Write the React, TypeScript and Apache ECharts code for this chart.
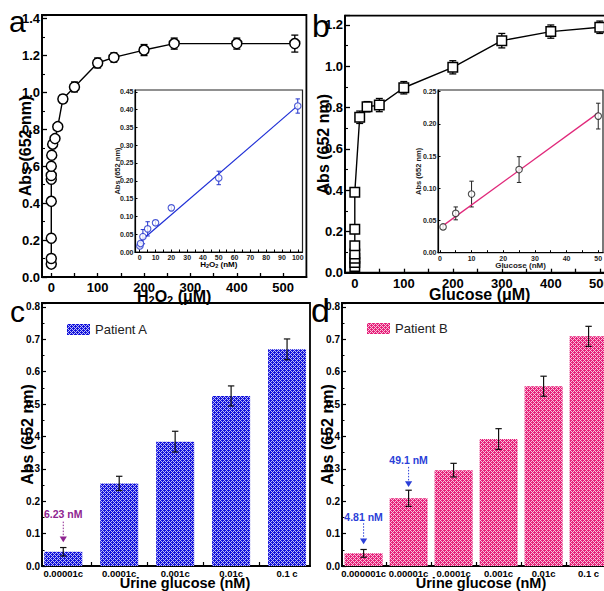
import React, { useEffect, useRef } from 'react';
import * as echarts from 'echarts';

const FONT = '"Liberation Sans", Arial, Helvetica, sans-serif';

// ---- Panel a: H2O2 (μM) ----
const aX = [0, 0, 0, 0, 0, 0, 0, 1, 3, 8, 14, 25, 50, 100, 135, 200, 265, 400, 525];
const aY = [0.07, 0.1, 0.21, 0.41, 0.53, 0.55, 0.6, 0.66, 0.72, 0.75, 0.815, 0.965, 1.03, 1.16, 1.19, 1.23, 1.265, 1.265, 1.265];
const aErr = [0.012, 0.012, 0.012, 0.012, 0.015, 0.012, 0.012, 0.012, 0.015, 0.015, 0.018, 0.022, 0.027, 0.027, 0.025, 0.03, 0.03, 0.03, 0.046];
const aXTicks = [0, 50, 100, 150, 200, 250, 300, 350, 400, 450, 500];
const aXLabels = [0, 100, 200, 300, 400, 500];

// ---- Inset a: H2O2 (nM) ----
const aiX = [0.1, 0.5, 2, 5, 10, 20, 50, 100];
const aiY = [0.017, 0.024, 0.043, 0.065, 0.082, 0.124, 0.208, 0.41];
const aiErr = [0.004, 0.005, 0.02, 0.02, 0.007, 0.007, 0.019, 0.02];
const aiFitX = [0.5, 100];
const aiFitY = [0.03, 0.411];
const aiXTicks = [0, 5, 10, 15, 20, 25, 30, 35, 40, 45, 50, 55, 60, 65, 70, 75, 80, 85, 90, 95, 100];
const aiXLabels = [0, 10, 20, 30, 40, 50, 60, 70, 80, 90, 100];

// ---- Panel b: Glucose (μM) ----
const bX = [0, 0, 0, 0, 0, 0, 0, 10, 25, 50, 100, 200, 300, 400, 500];
const bY = [0.03, 0.05, 0.07, 0.09, 0.13, 0.21, 0.39, 0.753, 0.804, 0.812, 0.896, 0.995, 1.124, 1.168, 1.189];
const bErr = [0.015, 0.015, 0.015, 0.015, 0.02, 0.02, 0.02, 0.03, 0.025, 0.032, 0.03, 0.032, 0.035, 0.032, 0.03];
const bXTicks = [0, 50, 100, 150, 200, 250, 300, 350, 400, 450, 500];
const bXLabels = [0, 100, 200, 300, 400, 500];

// ---- Inset b: Glucose (nM) ----
const biX = [1, 5, 10, 25, 50];
const biY = [0.04, 0.061, 0.091, 0.129, 0.212];
const biErr = [0.004, 0.01, 0.02, 0.02, 0.02];
const biFitX = [1, 50];
const biFitY = [0.042, 0.217];
const biXTicks = [0, 5, 10, 15, 20, 25, 30, 35, 40, 45, 50];
const biXLabels = [0, 10, 20, 30, 40, 50];

// ---- Panel c: Patient A ----
const cCats = ['0.00001c', '0.0001c', '0.001c', '0.01c', '0.1 c'];
const cVals = [0.044, 0.255, 0.384, 0.525, 0.669];
const cErr = [0.013, 0.022, 0.032, 0.031, 0.032];
const cNotes = ['6.23 nM'];
const cNotePos = [[1, 0.16, 0.137, 0.091, 0.073]];

// ---- Panel d: Patient B ----
const dCats = ['0.000001c', '0.00001c', '0.0001c', '0.001c', '0.01c', '0.1 c'];
const dVals = [0.039, 0.209, 0.296, 0.392, 0.555, 0.709];
const dErr = [0.012, 0.025, 0.021, 0.032, 0.031, 0.031];
const dNotes = ['4.81 nM', '49.1 nM'];
const dNotePos = [[1, 0.152, 0.132, 0.085, 0.067], [2, 0.327, 0.306, 0.262, 0.244]];

function makePattern(color: string) {
  const s = 4;
  const c = document.createElement('canvas');
  c.width = s;
  c.height = s;
  const ctx = c.getContext('2d')!;
  ctx.fillStyle = color;
  ctx.fillRect(0, 0, s, s);
  ctx.fillStyle = 'rgba(255,255,255,0.72)';
  for (let x = 0; x < s; x++) {
    for (let y = 0; y < s; y++) {
      if ((x + y) % 4 === 0 || (((x - y) % 4) + 4) % 4 === 0) ctx.fillRect(x, y, 1, 1);
    }
  }
  return { image: c, repeat: 'repeat', imageWidth: s, imageHeight: s };
}

function errRender(color: string, cap: number, lw: number) {
  return (params: any, api: any) => {
    const x = api.value(0);
    const y = api.value(1);
    const e = api.value(2);
    const p1 = api.coord([x, y + e]);
    const p2 = api.coord([x, y - e]);
    const style = { stroke: color, lineWidth: lw };
    return {
      type: 'group',
      children: [
        { type: 'line', shape: { x1: p1[0], y1: p1[1], x2: p2[0], y2: p2[1] }, style },
        { type: 'line', shape: { x1: p1[0] - cap, y1: p1[1], x2: p1[0] + cap, y2: p1[1] }, style },
        { type: 'line', shape: { x1: p2[0] - cap, y1: p2[1], x2: p2[0] + cap, y2: p2[1] }, style },
      ],
    };
  };
}

function noteRender(labels: string[], color: string) {
  return (params: any, api: any) => {
    const x = api.value(0);
    const pt = api.coord([x, api.value(1)]);
    const lt = api.coord([x, api.value(2)]);
    const hb = api.coord([x, api.value(3)]);
    const tip = api.coord([x, api.value(4)]);
    return {
      type: 'group',
      children: [
        {
          type: 'text',
          style: {
            text: labels[params.dataIndex], x: pt[0], y: pt[1],
            align: 'center', verticalAlign: 'middle', textAlign: 'center', textVerticalAlign: 'middle',
            fill: color, font: `bold 10.5px ${FONT}`,
          },
        },
        { type: 'line', shape: { x1: lt[0], y1: lt[1], x2: hb[0], y2: hb[1] }, style: { stroke: color, lineWidth: 1, lineDash: [1.5, 1.5] } },
        { type: 'polygon', shape: { points: [[hb[0] - 3.6, hb[1]], [hb[0] + 3.6, hb[1]], [tip[0], tip[1]]] }, style: { fill: color } },
      ],
    };
  };
}

const zip = (xs: number[], ys: number[]) => xs.map((x, i) => [x, ys[i]]);
const zip3 = (xs: number[], ys: number[], es: number[]) => xs.map((x, i) => [x, ys[i], es[i]]);

const tickStyle = (len: number, lw: number) => ({ show: true, inside: true, length: len, lineStyle: { color: '#000', width: lw } });
const lineStyle = (lw: number) => ({ show: true, onZero: false, lineStyle: { color: '#000', width: lw } });

export default function App() {
  const ref = useRef<HTMLDivElement>(null);
  useEffect(() => {
    if (!ref.current) return;
    const chart = echarts.init(ref.current, undefined, { renderer: 'svg' });
    const bluePat = makePattern('#1212dc');
    const pinkPat = makePattern('#e6207a');

    const subRich = (big: number, small: number, lh: number) => ({
      n: { fontSize: big, fontWeight: 'bold', fontFamily: FONT, color: '#000', lineHeight: lh, verticalAlign: 'middle' },
      s: { fontSize: small, fontWeight: 'bold', fontFamily: FONT, color: '#000', lineHeight: lh, verticalAlign: 'bottom' },
    });

    const mainLabel = (fs: number) => ({ color: '#000', fontSize: fs, fontWeight: 'bold', fontFamily: FONT });
    const yNameStyle = { fontSize: 16, fontWeight: 'bold', fontFamily: FONT, color: '#000' };
    const NM = { nameMoveOverlap: false };

    const option: any = {
      animation: false,
      textStyle: { fontFamily: FONT },
      grid: [
        { left: 42, top: 15, width: 264.4, height: 262, show: true, borderColor: '#000', borderWidth: 1.8, backgroundColor: 'transparent', outerBoundsMode: 'none' },
        { left: 345, top: 15.7, width: 269.5, height: 257, show: true, borderColor: '#000', borderWidth: 1.8, backgroundColor: 'transparent', outerBoundsMode: 'none' },
        { left: 135, top: 90, width: 167.5, height: 162, show: true, borderColor: '#222', borderWidth: 1.2, backgroundColor: '#fff', z: 10, outerBoundsMode: 'none' },
        { left: 438, top: 90, width: 165, height: 162.7, show: true, borderColor: '#222', borderWidth: 1.2, backgroundColor: '#fff', z: 10, outerBoundsMode: 'none' },
        { left: 42, top: 303, width: 268, height: 263, show: true, borderColor: '#000', borderWidth: 1.8, backgroundColor: 'transparent', outerBoundsMode: 'none' },
        { left: 342, top: 303, width: 268, height: 263, show: true, borderColor: '#000', borderWidth: 1.8, backgroundColor: 'transparent', outerBoundsMode: 'none' },
      ],
      xAxis: [
        {
          gridIndex: 0, type: 'value', min: -20, max: 550, ...NM,
          axisLine: lineStyle(1.8), axisTick: { ...tickStyle(4, 1.3), customValues: aXTicks },
          axisLabel: { ...mainLabel(13), margin: 4, customValues: aXLabels, formatter: (v: number) => String(v) },
          splitLine: { show: false },
          name: '{n|H}{s|2}{n|O}{s|2}{n| (μM)}', nameLocation: 'middle', nameGap: 10,
          nameTextStyle: { rich: subRich(16, 11, 18) },
        },
        {
          gridIndex: 1, type: 'value', min: -20, max: 530, ...NM,
          axisLine: lineStyle(1.8), axisTick: { ...tickStyle(4, 1.3), customValues: bXTicks },
          axisLabel: { ...mainLabel(13), margin: 4, customValues: bXLabels, formatter: (v: number) => String(v) },
          splitLine: { show: false },
          name: 'Glucose (μM)', nameLocation: 'middle', nameGap: 14,
          nameTextStyle: { fontSize: 16, fontWeight: 'bold', fontFamily: FONT, color: '#000' },
        },
        {
          gridIndex: 2, type: 'value', min: -3, max: 103, z: 11, ...NM,
          axisLine: lineStyle(1.2), axisTick: { ...tickStyle(2.5, 1), customValues: aiXTicks },
          axisLabel: { color: '#222', fontSize: 7, fontWeight: 'bold', fontFamily: FONT, margin: 2, customValues: aiXLabels, formatter: (v: number) => String(v) },
          splitLine: { show: false },
          name: '{n|H}{s|2}{n|O}{s|2}{n| (nM)}', nameLocation: 'middle', nameGap: 8,
          nameTextStyle: { rich: subRich(8, 5.5, 9) },
        },
        {
          gridIndex: 3, type: 'value', min: -0.6, max: 51.5, z: 11, ...NM,
          axisLine: lineStyle(1.2), axisTick: { ...tickStyle(2.5, 1), customValues: biXTicks },
          axisLabel: { color: '#222', fontSize: 7, fontWeight: 'bold', fontFamily: FONT, margin: 2, customValues: biXLabels, formatter: (v: number) => String(v) },
          splitLine: { show: false },
          name: 'Glucose (nM)', nameLocation: 'middle', nameGap: 9,
          nameTextStyle: { fontSize: 8, fontWeight: 'bold', fontFamily: FONT, color: '#222' },
        },
        {
          gridIndex: 4, type: 'value', min: 0.62, max: 5.41, ...NM,
          axisLine: lineStyle(1.8), axisTick: { ...tickStyle(4, 1.2), customValues: [1, 1.5, 2, 2.5, 3, 3.5, 4, 4.5, 5] },
          axisLabel: { ...mainLabel(9.5), margin: 2, customValues: [1, 2, 3, 4, 5], formatter: (v: number) => cCats[Math.round(v) - 1] },
          splitLine: { show: false },
          name: 'Urine glucose (nM)', nameLocation: 'middle', nameGap: 9,
          nameTextStyle: { fontSize: 14.5, fontWeight: 'bold', fontFamily: FONT, color: '#000', padding: [0, 0, 0, 18] },
        },
        {
          gridIndex: 5, type: 'value', min: 0.52, max: 6.476, ...NM,
          axisLine: lineStyle(1.8), axisTick: { ...tickStyle(4, 1.2), customValues: [1, 1.5, 2, 2.5, 3, 3.5, 4, 4.5, 5, 5.5, 6] },
          axisLabel: { ...mainLabel(9.5), margin: 2, customValues: [1, 2, 3, 4, 5, 6], formatter: (v: number) => dCats[Math.round(v) - 1] },
          splitLine: { show: false },
          name: 'Urine glucose (nM)', nameLocation: 'middle', nameGap: 9,
          nameTextStyle: { fontSize: 14.5, fontWeight: 'bold', fontFamily: FONT, color: '#000', padding: [0, 0, 0, 10] },
        },
      ],
      yAxis: [
        {
          gridIndex: 0, type: 'value', min: 0, max: 1.42, interval: 0.2, ...NM,
          axisLine: lineStyle(1.8), axisTick: tickStyle(5, 1.3),
          minorTick: { show: true, splitNumber: 2, length: 3, lineStyle: { color: '#000', width: 1.1 } },
          axisLabel: { ...mainLabel(13), margin: 2, showMaxLabel: false, formatter: (v: number) => v.toFixed(1) },
          splitLine: { show: false },
          name: 'Abs (652 nm)', nameLocation: 'middle', nameGap: 9, nameTextStyle: yNameStyle,
        },
        {
          gridIndex: 1, type: 'value', min: 0, max: 1.245, interval: 0.2, ...NM,
          axisLine: lineStyle(1.8), axisTick: tickStyle(5, 1.3),
          minorTick: { show: true, splitNumber: 2, length: 3, lineStyle: { color: '#000', width: 1.1 } },
          axisLabel: { ...mainLabel(13), margin: 2, showMaxLabel: false, formatter: (v: number) => v.toFixed(1) },
          splitLine: { show: false },
          name: 'Abs (652 nm)', nameLocation: 'middle', nameGap: 14, nameTextStyle: yNameStyle,
        },
        {
          gridIndex: 2, type: 'value', min: 0, max: 0.455, interval: 0.05, z: 11, ...NM,
          axisLine: lineStyle(1.2), axisTick: tickStyle(2.5, 1),
          axisLabel: { color: '#222', fontSize: 7, fontWeight: 'bold', fontFamily: FONT, margin: 1.5, showMaxLabel: false, formatter: (v: number) => v.toFixed(2) },
          splitLine: { show: false },
          name: 'Abs (652 nm)', nameLocation: 'middle', nameGap: 14,
          nameTextStyle: { fontSize: 7.5, fontWeight: 'bold', fontFamily: FONT, color: '#222' },
        },
        {
          gridIndex: 3, type: 'value', min: 0, max: 0.2525, interval: 0.05, z: 11, ...NM,
          axisLine: lineStyle(1.2), axisTick: tickStyle(2.5, 1),
          axisLabel: { color: '#222', fontSize: 7, fontWeight: 'bold', fontFamily: FONT, margin: 1.5, showMaxLabel: false, formatter: (v: number) => v.toFixed(2) },
          splitLine: { show: false },
          name: 'Abs (652 nm)', nameLocation: 'middle', nameGap: 16,
          nameTextStyle: { fontSize: 7.5, fontWeight: 'bold', fontFamily: FONT, color: '#222' },
        },
        {
          gridIndex: 4, type: 'value', min: 0, max: 0.812, interval: 0.1, ...NM,
          axisLine: lineStyle(1.8), axisTick: tickStyle(4, 1.2),
          minorTick: { show: true, splitNumber: 2, length: 2.5, lineStyle: { color: '#000', width: 1 } },
          axisLabel: { ...mainLabel(10), margin: 2, showMaxLabel: false, formatter: (v: number) => v.toFixed(1) },
          splitLine: { show: false },
          name: 'Abs (652 nm)', nameLocation: 'middle', nameGap: 7, nameTextStyle: yNameStyle,
        },
        {
          gridIndex: 5, type: 'value', min: 0, max: 0.812, interval: 0.1, ...NM,
          axisLine: lineStyle(1.8), axisTick: tickStyle(4, 1.2),
          minorTick: { show: true, splitNumber: 2, length: 2.5, lineStyle: { color: '#000', width: 1 } },
          axisLabel: { ...mainLabel(10), margin: 2, showMaxLabel: false, formatter: (v: number) => v.toFixed(1) },
          splitLine: { show: false },
          name: 'Abs (652 nm)', nameLocation: 'middle', nameGap: 6.5, nameTextStyle: yNameStyle,
        },
      ],
      legend: [
        {
          data: ['Patient A'], left: 62, top: 318, itemWidth: 23, itemHeight: 11, icon: 'rect',
          textStyle: { fontSize: 13, fontFamily: FONT, color: '#222' }, itemStyle: { borderWidth: 0 },
        },
        {
          data: ['Patient B'], left: 362, top: 317, itemWidth: 23, itemHeight: 11, icon: 'rect',
          textStyle: { fontSize: 13, fontFamily: FONT, color: '#222' }, itemStyle: { borderWidth: 0 },
        },
      ],
      series: [
        // panel a
        { type: 'custom', xAxisIndex: 0, yAxisIndex: 0, z: 2, renderItem: errRender('#000', 3.5, 1.3), encode: { x: 0, y: 1 }, data: zip3(aX, aY, aErr) },
        {
          type: 'line', xAxisIndex: 0, yAxisIndex: 0, z: 3, data: zip(aX, aY), symbol: 'circle', symbolSize: 10,
          itemStyle: { color: '#fff', borderColor: '#000', borderWidth: 1.5 }, lineStyle: { color: '#000', width: 1.4 },
        },
        // panel b
        { type: 'custom', xAxisIndex: 1, yAxisIndex: 1, z: 2, renderItem: errRender('#000', 3.5, 1.3), encode: { x: 0, y: 1 }, data: zip3(bX, bY, bErr) },
        {
          type: 'line', xAxisIndex: 1, yAxisIndex: 1, z: 3, data: zip(bX, bY), symbol: 'rect', symbolSize: 9.5,
          itemStyle: { color: '#fff', borderColor: '#000', borderWidth: 1.5 }, lineStyle: { color: '#000', width: 1.4 },
        },
        // inset a
        { type: 'line', xAxisIndex: 2, yAxisIndex: 2, z: 12, data: zip(aiFitX, aiFitY), symbol: 'none', lineStyle: { color: '#1f2fd6', width: 1.2 } },
        { type: 'custom', xAxisIndex: 2, yAxisIndex: 2, z: 12, renderItem: errRender('#2233cc', 2.2, 1), encode: { x: 0, y: 1 }, data: zip3(aiX, aiY, aiErr) },
        {
          type: 'scatter', xAxisIndex: 2, yAxisIndex: 2, z: 13, data: zip(aiX, aiY), symbol: 'circle', symbolSize: 6.5,
          itemStyle: { color: '#fff', borderColor: '#2233cc', borderWidth: 1.1 },
        },
        // inset b
        { type: 'line', xAxisIndex: 3, yAxisIndex: 3, z: 12, data: zip(biFitX, biFitY), symbol: 'none', lineStyle: { color: '#e0287a', width: 1.3 } },
        { type: 'custom', xAxisIndex: 3, yAxisIndex: 3, z: 12, renderItem: errRender('#222', 2.2, 1), encode: { x: 0, y: 1 }, data: zip3(biX, biY, biErr) },
        {
          type: 'scatter', xAxisIndex: 3, yAxisIndex: 3, z: 13, data: zip(biX, biY), symbol: 'circle', symbolSize: 6.5,
          itemStyle: { color: '#fff', borderColor: '#222', borderWidth: 1.1 },
        },
        // panel c
        {
          name: 'Patient A', type: 'bar', xAxisIndex: 4, yAxisIndex: 4, z: 2, barWidth: 38,
          data: cVals.map((v, i) => [i + 1, v]), itemStyle: { color: bluePat },
        },
        { type: 'custom', xAxisIndex: 4, yAxisIndex: 4, z: 4, renderItem: errRender('#111', 3.2, 1.2), encode: { x: 0, y: 1 }, data: cVals.map((v, i) => [i + 1, v, cErr[i]]) },
        { type: 'custom', xAxisIndex: 4, yAxisIndex: 4, z: 5, renderItem: noteRender(cNotes, '#8e2490'), encode: { x: 0, y: 1 }, data: cNotePos },
        // panel d
        {
          name: 'Patient B', type: 'bar', xAxisIndex: 5, yAxisIndex: 5, z: 2, barWidth: 38,
          data: dVals.map((v, i) => [i + 1, v]), itemStyle: { color: pinkPat },
        },
        { type: 'custom', xAxisIndex: 5, yAxisIndex: 5, z: 4, renderItem: errRender('#111', 3.2, 1.2), encode: { x: 0, y: 1 }, data: dVals.map((v, i) => [i + 1, v, dErr[i]]) },
        { type: 'custom', xAxisIndex: 5, yAxisIndex: 5, z: 5, renderItem: noteRender(dNotes, '#2a3fd8'), encode: { x: 0, y: 1 }, data: dNotePos },
      ],
      graphic: [
        { type: 'text', x: 9, y: 36.3, style: { text: 'a', font: `30px ${FONT}`, fill: '#000', verticalAlign: 'bottom', textVerticalAlign: 'bottom' } },
        { type: 'text', x: 312, y: 41.7, style: { text: 'b', font: `32px ${FONT}`, fill: '#000', verticalAlign: 'bottom', textVerticalAlign: 'bottom' } },
        { type: 'text', x: 10, y: 326.3, style: { text: 'c', font: `30px ${FONT}`, fill: '#000', verticalAlign: 'bottom', textVerticalAlign: 'bottom' } },
        { type: 'text', x: 311, y: 327.1, style: { text: 'd', font: `34px ${FONT}`, fill: '#000', verticalAlign: 'bottom', textVerticalAlign: 'bottom' } },
      ],
    };
    chart.setOption(option);
    return () => chart.dispose();
  }, []);
  return <div ref={ref} style={{ position: 'fixed', left: 0, top: 0, width: 604, height: 591, background: '#fff' }} />;
}
